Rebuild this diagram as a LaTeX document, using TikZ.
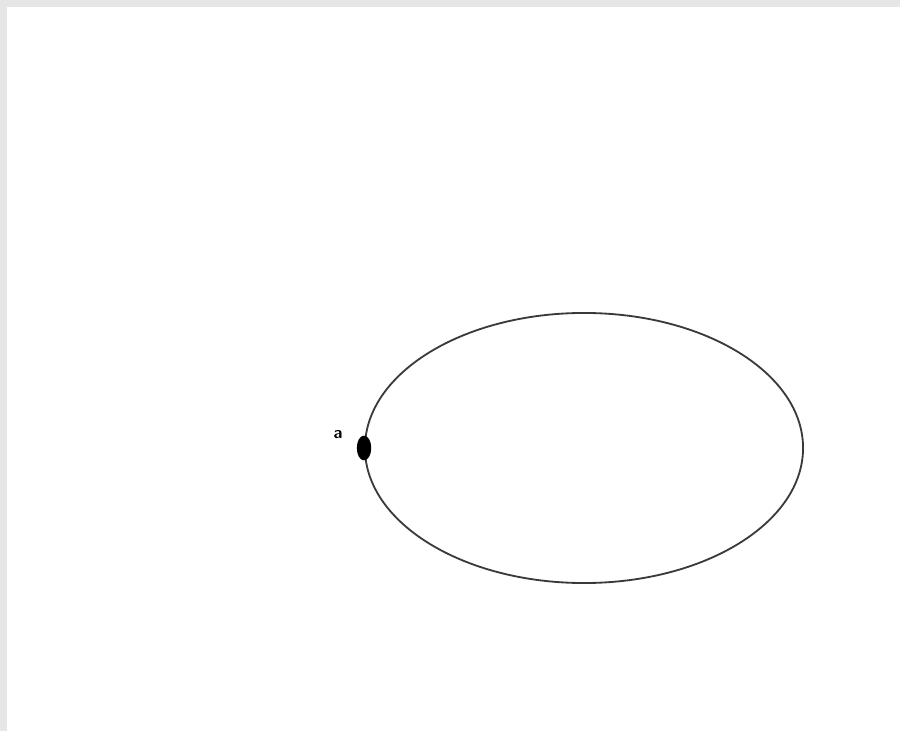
\documentclass[tikz,border=0pt]{standalone}
\usepackage{xcolor}
\usepackage{tikz}
\usetikzlibrary{shapes.geometric}
\definecolor{OrbLine}{HTML}{3A3A3A}
\definecolor{OrbFrame}{HTML}{E6E6E6}

\begin{document}
\begin{tikzpicture}[x=0.025cm,y=0.025cm]
\path[use as bounding box] (0,0) rectangle (900,731);
\fill[OrbFrame] (0,724) rectangle (900,731);
\fill[OrbFrame] (0,0) rectangle (7,731);
\node[draw=OrbLine,line width=1.3pt,ellipse,inner sep=0pt,minimum width=10.95cm,minimum height=6.75cm] (orbit) at (584,283) {};
\node[fill=black,ellipse,inner sep=0pt,minimum width=0.36cm,minimum height=0.62cm] (body) at (orbit.west) {};
\node[anchor=center,font=\large\sffamily\bfseries] (lbl) at (338,296) {a};
\end{tikzpicture}
\end{document}
